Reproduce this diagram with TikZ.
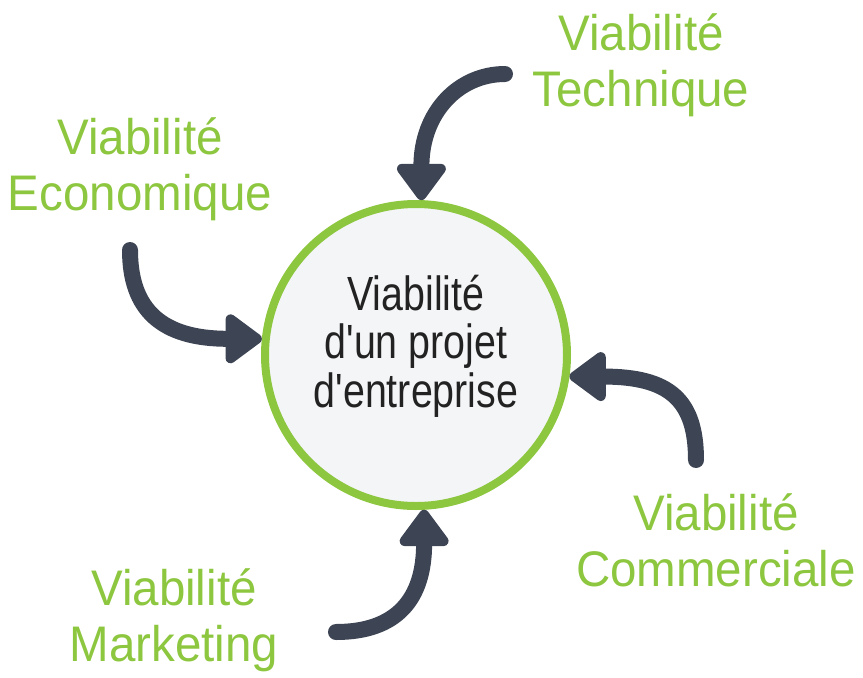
\documentclass[tikz,border=0pt]{standalone}
\usepackage{fontspec}
\setmainfont{Liberation Sans}
\newfontfamily\labelfont{Liberation Sans}[FakeStretch=0.95]
\newfontfamily\corefont{Liberation Sans}[FakeStretch=0.82,Ligatures=TeXOff]
\usetikzlibrary{arrows.meta}
\definecolor{leaf}{HTML}{8DC63F}
\definecolor{slate}{HTML}{3D4453}
\definecolor{mist}{HTML}{F4F5F7}
\definecolor{ink}{HTML}{222222}
\begin{document}
\begin{tikzpicture}[x=1pt,y=-1pt,
  viab/.style={font=\labelfont\fontsize{50}{56}\selectfont,text=leaf,align=center,anchor=base,inner sep=0},
  curvearrow/.style={draw=slate,line width=16pt,line cap=round,-{Triangle[width=56pt,length=40pt,round]}}]
\useasboundingbox (0,0) rectangle (863,678);
\node[circle,draw=leaf,line width=8pt,fill=mist,minimum size=302pt,inner sep=0] (core) at (416,355) {};
\node[font=\corefont\fontsize{48}{48.5}\selectfont,text=ink,align=center,anchor=base,inner sep=0] (coretext) at (416,407) {Viabilité\\d'un projet\\d'entreprise};
\node[viab] (tech) at (641,106) {Viabilité\\Technique};
\node[viab] (eco) at (140,210) {Viabilité\\Economique};
\node[viab] (comm) at (716,586) {Viabilité\\Commerciale};
\node[viab] (mark) at (174,661) {Viabilité\\Marketing};
\coordinate (techtail) at (505,74);
\coordinate (ecotail) at (130,250);
\coordinate (commtail) at (696,460);
\coordinate (marktail) at (336,632);
\draw[curvearrow] (techtail) .. controls +(-46,0) and +(0,-88) .. (core.88);
\draw[curvearrow] (ecotail) .. controls +(0,60) and +(-100,0) .. (core.174);
\draw[curvearrow] (commtail) .. controls +(0,-60) and +(100,0) .. (core.352);
\draw[curvearrow] (marktail) .. controls +(60,0) and +(0,90) .. (core.273);
\end{tikzpicture}
\end{document}
